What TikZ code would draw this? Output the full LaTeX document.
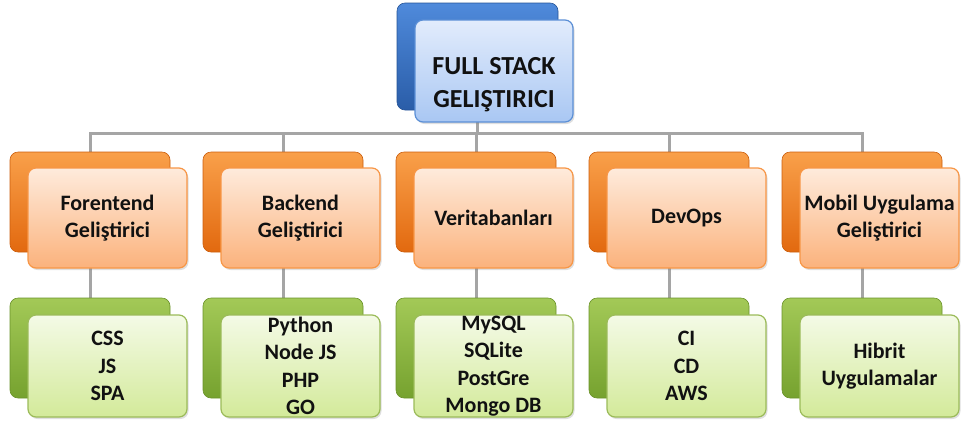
\documentclass[tikz,border=0pt]{standalone}
\usepackage{fontspec}
\setmainfont{Carlito}
\usetikzlibrary{shadows,backgrounds}
\definecolor{lineGray}{HTML}{A5A5A5}
\definecolor{txt}{HTML}{111111}
\definecolor{obT}{HTML}{F9A04A}\definecolor{obB}{HTML}{E2690F}
\definecolor{ofT}{HTML}{FEEBDC}\definecolor{ofB}{HTML}{FBB27C}\definecolor{ofD}{HTML}{F79646}
\definecolor{gbT}{HTML}{A3C957}\definecolor{gbB}{HTML}{76A22F}
\definecolor{gfT}{HTML}{F4FAE6}\definecolor{gfB}{HTML}{D3EA9A}\definecolor{gfD}{HTML}{9BBB59}
\definecolor{bbT}{HTML}{4F8ADB}\definecolor{bbB}{HTML}{2A5DA8}
\definecolor{bfT}{HTML}{E2ECFC}\definecolor{bfB}{HTML}{A9C7F3}\definecolor{bfD}{HTML}{5B8FD6}
\begin{document}
\begin{tikzpicture}[x=1pt,y=-1pt,
  box/.style={rounded corners=8pt, inner sep=0pt, outer sep=0pt, anchor=north west,
    minimum width=160pt, minimum height=100pt, align=center, text=txt,
    font=\bfseries\fontsize{22}{27.5}\selectfont},
  shad/.style={drop shadow={opacity=0.25, shadow xshift=1.5pt, shadow yshift=-2pt}},
  backO/.style={box, top color=obT, bottom color=obB, draw=obB!90!black, line width=0.6pt},
  frontO/.style={box, shad, top color=ofT, bottom color=ofB, draw=ofD, line width=1.2pt, minimum width=159pt},
  backG/.style={box, top color=gbT, bottom color=gbB, draw=gbB!90!black, line width=0.6pt},
  frontG/.style={box, shad, top color=gfT, bottom color=gfB, draw=gfD, line width=1.2pt, minimum width=159pt, minimum height=102pt},
  backB/.style={box, top color=bbT, bottom color=bbB, draw=bbB!90!black, line width=0.6pt, minimum width=161pt, minimum height=107pt},
  frontB/.style={box, shad, top color=bfT, bottom color=bfB, draw=bfD, line width=1.2pt, minimum width=158pt, minimum height=102pt},
  link/.style={draw=lineGray, line width=3pt}]
\useasboundingbox (0,0) rectangle (963,424);

% top
\node[backB] (topb) at (397,3) {};
\node[frontB] (top) at (415,20) {};
\node[align=center, text=txt, font=\bfseries\fontsize{26}{33}\selectfont] (toptxt) at (494,85) {FULL STACK\\GELIŞTIRICI};

\coordinate (bus) at (0,133);

\foreach \i/\ot/\gt in {0/{Forentend\\Geliştirici}/{CSS\\JS\\SPA},
                        1/{Backend\\Geliştirici}/{Python\\Node JS\\PHP\\GO},
                        2/{Veritabanları}/{MySQL\\SQLite\\PostGre\\Mongo DB},
                        3/{DevOps}/{CI\\CD\\AWS},
                        4/{Mobil Uygulama\\Geliştirici}/{Hibrit\\Uygulamalar}}{
  \pgfmathsetmacro{\bx}{10+193*\i}
  \node[backO] (ob\i) at (\bx,152) {};
  \node[frontO] (of\i) at (\bx+18,168) {\ot};
  \node[backG] (gb\i) at (\bx,298) {};
  \node[frontG] (gf\i) at (\bx+18,315) {\gt};
  \begin{scope}[on background layer]
    \draw[link] (topb.south) -- (topb.south |- bus) -| (ob\i.north);
    \draw[link] (ob\i.south) -- (gb\i.north);
  \end{scope}
}
\end{tikzpicture}
\end{document}
